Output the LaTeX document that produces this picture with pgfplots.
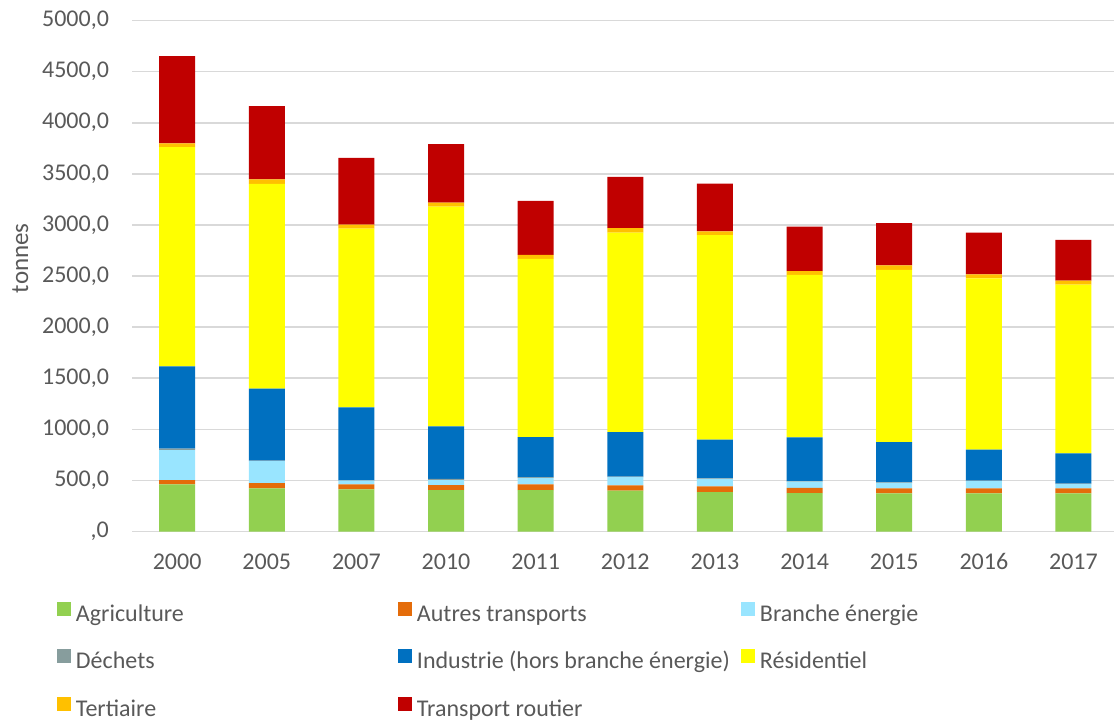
\documentclass[border=0pt]{standalone}
\usepackage{pgfplots}
\pgfplotsset{compat=1.18}
\usepackage{pgfplotstable}
\usepackage{fontspec}
\setmainfont{Carlito}

\definecolor{txt}{HTML}{595959}
\definecolor{gridc}{HTML}{D9D9D9}
\definecolor{cAgri}{HTML}{92D050}
\definecolor{cAutres}{HTML}{E46C0A}
\definecolor{cBranche}{HTML}{99E5FF}
\definecolor{cDechets}{HTML}{879D9D}
\definecolor{cIndus}{HTML}{0070C0}
\definecolor{cResid}{HTML}{FFFF00}
\definecolor{cTert}{HTML}{FFC000}
\definecolor{cRoute}{HTML}{C00000}

% tonnes par secteur, empilés de bas en haut
\pgfplotstableread{
i year agri autres branche dechets indus resid tert route
0 2000 460 43 294 13 805 2146 36 854
1 2005 421 52 215 5 706 2003 43 718
2 2007 412 49 36 3 715 1748 40 654
3 2010 405 49 49 13 513 2150 40 571
4 2011 405 56 65 5 393 1743 39 529
5 2012 399 52 81 5 436 1952 43 503
6 2013 385 56 75 5 378 2000 39 467
7 2014 375 53 59 5 429 1589 39 434
8 2015 372 49 56 5 393 1686 43 413
9 2016 372 49 72 5 303 1677 39 408
10 2017 372 49 43 5 295 1652 39 399
}\data

\begin{document}
\begin{tikzpicture}
\path[use as bounding box] (-66.15pt,-94.25pt) rectangle (490.85pt,265.75pt);
\begin{axis}[
  scale only axis,
  width=493pt, height=255.5pt,
  ybar stacked, bar width=18pt,
  xmin=-0.5, xmax=10.5,
  ymin=0, ymax=5000,
  xtick={0,...,10},
  xticklabels={2000,2005,2007,2010,2011,2012,2013,2014,2015,2016,2017},
  ytick={0,500,...,5000},
  yticklabels={{,0},{500,0},{1000,0},{1500,0},{2000,0},{2500,0},{3000,0},{3500,0},{4000,0},{4500,0},{5000,0}},
  major tick length=0pt,
  axis line style={draw=none},
  ymajorgrids, grid style={gridc, line width=0.8pt},
  tick label style={font=\fontsize{12}{14}\selectfont, text=txt},
  yticklabel style={inner sep=0pt, anchor=east, xshift=-11.5pt},
  xticklabel style={inner sep=0pt, anchor=north, yshift=-11pt, text height=7.8pt, text depth=0pt},
  ylabel={tonnes},
  every axis y label/.style={at={(axis description cs:-0.1136,0.535)}, rotate=90, anchor=center, font=\fontsize{12.5}{14}\selectfont, text=txt},
  legend columns=3,
  legend style={draw=none, fill=none, inner sep=0pt, outer sep=0pt,
    at={(axis description cs:-0.0764,-0.138)}, anchor=north west,
    font=\fontsize{12}{14}\selectfont, text=txt, row sep=11.3pt,
    nodes={inner sep=0pt, text height=8.5pt, text depth=2.7pt},
    /tikz/every odd column/.append style={column sep=2.5pt},
    /tikz/every even column/.append style={column sep=0pt}},
  legend image code/.code={\fill[#1] (0pt,-0.2pt) rectangle (7pt,6.8pt);},
]
\addplot[fill=cAgri, draw=none] table[x=i, y=agri] {\data};
\addlegendentry{\makebox[161pt][l]{Agriculture}}
\addplot[fill=cAutres, draw=none] table[x=i, y=autres] {\data};
\addlegendentry{\makebox[162pt][l]{Autres transports}}
\addplot[fill=cBranche, draw=none] table[x=i, y=branche] {\data};
\addlegendentry{\makebox[90pt][l]{Branche énergie}}
\addplot[fill=cDechets, draw=none] table[x=i, y=dechets] {\data};
\addlegendentry{\makebox[161pt][l]{Déchets}}
\addplot[fill=cIndus, draw=none] table[x=i, y=indus] {\data};
\addlegendentry{\makebox[162pt][l]{Industrie (hors branche énergie)}}
\addplot[fill=cResid, draw=none] table[x=i, y=resid] {\data};
\addlegendentry{\makebox[90pt][l]{Résidentiel}}
\addplot[fill=cTert, draw=none] table[x=i, y=tert] {\data};
\addlegendentry{\makebox[161pt][l]{Tertiaire}}
\addplot[fill=cRoute, draw=none] table[x=i, y=route] {\data};
\addlegendentry{\makebox[162pt][l]{Transport routier}}
\end{axis}
\end{tikzpicture}
\end{document}
